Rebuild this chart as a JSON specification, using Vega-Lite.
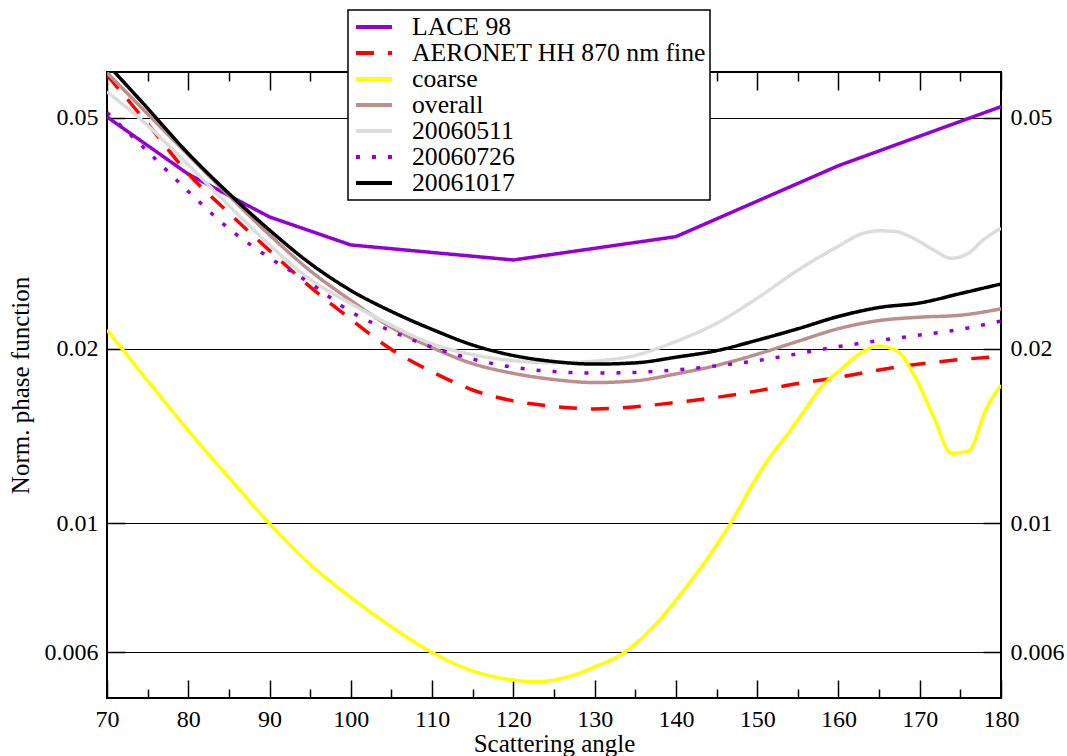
{
  "$schema": "https://vega.github.io/schema/vega-lite/v6.json",
  "width": 894,
  "height": 626,
  "autosize": {"type": "none"},
  "padding": {"left": 107, "top": 72, "right": 66, "bottom": 58},
  "background": "white",
  "config": {
    "font": "Liberation Serif",
    "view": {"stroke": "black", "strokeWidth": 2},
    "axis": {
      "labelFont": "Liberation Serif",
      "labelFontSize": 24,
      "labelColor": "black",
      "titleFont": "Liberation Serif",
      "titleFontSize": 25,
      "titleFontWeight": "normal",
      "titleColor": "black",
      "tickColor": "black",
      "tickWidth": 1.5,
      "domain": false,
      "gridColor": "black",
      "gridWidth": 1.2,
      "gridOpacity": 1
    },
    "legend": {"strokeWidth": 1.5}
  },
  "data": {
    "values": [
      {"series": "LACE 98", "angle": 70, "value": 0.0502},
      {"series": "LACE 98", "angle": 80, "value": 0.0400},
      {"series": "LACE 98", "angle": 90, "value": 0.03375},
      {"series": "LACE 98", "angle": 100, "value": 0.0302},
      {"series": "LACE 98", "angle": 120, "value": 0.02845},
      {"series": "LACE 98", "angle": 140, "value": 0.03121},
      {"series": "LACE 98", "angle": 160, "value": 0.04137},
      {"series": "LACE 98", "angle": 180, "value": 0.05229},

      {"series": "AERONET HH 870 nm fine", "angle": 70, "value": 0.05931},
      {"series": "AERONET HH 870 nm fine", "angle": 75, "value": 0.04886},
      {"series": "AERONET HH 870 nm fine", "angle": 80, "value": 0.04006},
      {"series": "AERONET HH 870 nm fine", "angle": 85, "value": 0.03429},
      {"series": "AERONET HH 870 nm fine", "angle": 90, "value": 0.02953},
      {"series": "AERONET HH 870 nm fine", "angle": 95, "value": 0.02557},
      {"series": "AERONET HH 870 nm fine", "angle": 100, "value": 0.02248},
      {"series": "AERONET HH 870 nm fine", "angle": 105, "value": 0.01994},
      {"series": "AERONET HH 870 nm fine", "angle": 110, "value": 0.01825},
      {"series": "AERONET HH 870 nm fine", "angle": 115, "value": 0.01698},
      {"series": "AERONET HH 870 nm fine", "angle": 120, "value": 0.01626},
      {"series": "AERONET HH 870 nm fine", "angle": 125, "value": 0.01591},
      {"series": "AERONET HH 870 nm fine", "angle": 130, "value": 0.01575},
      {"series": "AERONET HH 870 nm fine", "angle": 135, "value": 0.01589},
      {"series": "AERONET HH 870 nm fine", "angle": 140, "value": 0.01616},
      {"series": "AERONET HH 870 nm fine", "angle": 145, "value": 0.01649},
      {"series": "AERONET HH 870 nm fine", "angle": 150, "value": 0.01692},
      {"series": "AERONET HH 870 nm fine", "angle": 155, "value": 0.01742},
      {"series": "AERONET HH 870 nm fine", "angle": 160, "value": 0.01785},
      {"series": "AERONET HH 870 nm fine", "angle": 165, "value": 0.01839},
      {"series": "AERONET HH 870 nm fine", "angle": 170, "value": 0.01883},
      {"series": "AERONET HH 870 nm fine", "angle": 175, "value": 0.01916},
      {"series": "AERONET HH 870 nm fine", "angle": 180, "value": 0.01940},

      {"series": "coarse", "angle": 70, "value": 0.02156},
      {"series": "coarse", "angle": 75, "value": 0.01762},
      {"series": "coarse", "angle": 81.4, "value": 0.0137},
      {"series": "coarse", "angle": 85, "value": 0.012},
      {"series": "coarse", "angle": 90, "value": 0.00999},
      {"series": "coarse", "angle": 95, "value": 0.008495},
      {"series": "coarse", "angle": 99.9, "value": 0.007473},
      {"series": "coarse", "angle": 105, "value": 0.006631},
      {"series": "coarse", "angle": 110.2, "value": 0.00597},
      {"series": "coarse", "angle": 114.7, "value": 0.005587},
      {"series": "coarse", "angle": 120, "value": 0.00537},
      {"series": "coarse", "angle": 122.7, "value": 0.005334},
      {"series": "coarse", "angle": 127, "value": 0.005455},
      {"series": "coarse", "angle": 130, "value": 0.005658},
      {"series": "coarse", "angle": 133.5, "value": 0.00597},
      {"series": "coarse", "angle": 137.2, "value": 0.006635},
      {"series": "coarse", "angle": 141.3, "value": 0.007777},
      {"series": "coarse", "angle": 144.6, "value": 0.009},
      {"series": "coarse", "angle": 146.7, "value": 0.009988},
      {"series": "coarse", "angle": 149.5, "value": 0.01173},
      {"series": "coarse", "angle": 151.6, "value": 0.01303},
      {"series": "coarse", "angle": 153.8, "value": 0.01429},
      {"series": "coarse", "angle": 155.7, "value": 0.01558},
      {"series": "coarse", "angle": 158.1, "value": 0.01732},
      {"series": "coarse", "angle": 160.2, "value": 0.01838},
      {"series": "coarse", "angle": 162.7, "value": 0.01965},
      {"series": "coarse", "angle": 164.9, "value": 0.02022},
      {"series": "coarse", "angle": 167.2, "value": 0.01985},
      {"series": "coarse", "angle": 169.4, "value": 0.01791},
      {"series": "coarse", "angle": 171.7, "value": 0.01528},
      {"series": "coarse", "angle": 173.9, "value": 0.01321},
      {"series": "coarse", "angle": 176, "value": 0.01333},
      {"series": "coarse", "angle": 178.2, "value": 0.01579},
      {"series": "coarse", "angle": 180, "value": 0.01732},

      {"series": "overall", "angle": 70, "value": 0.05985},
      {"series": "overall", "angle": 75, "value": 0.0508},
      {"series": "overall", "angle": 80, "value": 0.04317},
      {"series": "overall", "angle": 85, "value": 0.03674},
      {"series": "overall", "angle": 90, "value": 0.03143},
      {"series": "overall", "angle": 95, "value": 0.02726},
      {"series": "overall", "angle": 100, "value": 0.02423},
      {"series": "overall", "angle": 105, "value": 0.02176},
      {"series": "overall", "angle": 110, "value": 0.02009},
      {"series": "overall", "angle": 115, "value": 0.01885},
      {"series": "overall", "angle": 120, "value": 0.01814},
      {"series": "overall", "angle": 125, "value": 0.0177},
      {"series": "overall", "angle": 130, "value": 0.01749},
      {"series": "overall", "angle": 135, "value": 0.01761},
      {"series": "overall", "angle": 140, "value": 0.0181},
      {"series": "overall", "angle": 145, "value": 0.01872},
      {"series": "overall", "angle": 150, "value": 0.01957},
      {"series": "overall", "angle": 155, "value": 0.0206},
      {"series": "overall", "angle": 160, "value": 0.02166},
      {"series": "overall", "angle": 165, "value": 0.02237},
      {"series": "overall", "angle": 170, "value": 0.02267},
      {"series": "overall", "angle": 175, "value": 0.02285},
      {"series": "overall", "angle": 180, "value": 0.02343},

      {"series": "20060511", "angle": 70, "value": 0.05549},
      {"series": "20060511", "angle": 75, "value": 0.04853},
      {"series": "20060511", "angle": 80, "value": 0.04149},
      {"series": "20060511", "angle": 85, "value": 0.03531},
      {"series": "20060511", "angle": 90, "value": 0.03021},
      {"series": "20060511", "angle": 95, "value": 0.02634},
      {"series": "20060511", "angle": 100, "value": 0.02392},
      {"series": "20060511", "angle": 105, "value": 0.02195},
      {"series": "20060511", "angle": 110, "value": 0.02039},
      {"series": "20060511", "angle": 115, "value": 0.01954},
      {"series": "20060511", "angle": 120, "value": 0.01908},
      {"series": "20060511", "angle": 125, "value": 0.01891},
      {"series": "20060511", "angle": 130, "value": 0.01904},
      {"series": "20060511", "angle": 135, "value": 0.01948},
      {"series": "20060511", "angle": 140, "value": 0.02059},
      {"series": "20060511", "angle": 145, "value": 0.02212},
      {"series": "20060511", "angle": 150, "value": 0.02444},
      {"series": "20060511", "angle": 155, "value": 0.02732},
      {"series": "20060511", "angle": 160, "value": 0.03005},
      {"series": "20060511", "angle": 162.7, "value": 0.0315},
      {"series": "20060511", "angle": 165, "value": 0.03194},
      {"series": "20060511", "angle": 167.1, "value": 0.03184},
      {"series": "20060511", "angle": 169.2, "value": 0.03102},
      {"series": "20060511", "angle": 171.7, "value": 0.02961},
      {"series": "20060511", "angle": 173.9, "value": 0.02864},
      {"series": "20060511", "angle": 176, "value": 0.02922},
      {"series": "20060511", "angle": 177.8, "value": 0.0308},
      {"series": "20060511", "angle": 180, "value": 0.03227},

      {"series": "20060726", "angle": 70, "value": 0.0511},
      {"series": "20060726", "angle": 75, "value": 0.04378},
      {"series": "20060726", "angle": 80, "value": 0.03735},
      {"series": "20060726", "angle": 85, "value": 0.03222},
      {"series": "20060726", "angle": 90, "value": 0.0287},
      {"series": "20060726", "angle": 95, "value": 0.02595},
      {"series": "20060726", "angle": 100, "value": 0.02317},
      {"series": "20060726", "angle": 105, "value": 0.02145},
      {"series": "20060726", "angle": 110, "value": 0.02012},
      {"series": "20060726", "angle": 115, "value": 0.0192},
      {"series": "20060726", "angle": 120, "value": 0.01858},
      {"series": "20060726", "angle": 125, "value": 0.01827},
      {"series": "20060726", "angle": 130, "value": 0.01816},
      {"series": "20060726", "angle": 135, "value": 0.01821},
      {"series": "20060726", "angle": 140, "value": 0.01839},
      {"series": "20060726", "angle": 145, "value": 0.01869},
      {"series": "20060726", "angle": 150, "value": 0.01908},
      {"series": "20060726", "angle": 155, "value": 0.01961},
      {"series": "20060726", "angle": 160, "value": 0.02017},
      {"series": "20060726", "angle": 165, "value": 0.02066},
      {"series": "20060726", "angle": 170, "value": 0.02112},
      {"series": "20060726", "angle": 175, "value": 0.0216},
      {"series": "20060726", "angle": 180, "value": 0.02233},

      {"series": "20061017", "angle": 70, "value": 0.06197},
      {"series": "20061017", "angle": 75, "value": 0.05194},
      {"series": "20061017", "angle": 80, "value": 0.04341},
      {"series": "20061017", "angle": 85, "value": 0.03704},
      {"series": "20061017", "angle": 90, "value": 0.03203},
      {"series": "20061017", "angle": 95, "value": 0.02806},
      {"series": "20061017", "angle": 100, "value": 0.02521},
      {"series": "20061017", "angle": 105, "value": 0.02319},
      {"series": "20061017", "angle": 110, "value": 0.0216},
      {"series": "20061017", "angle": 115, "value": 0.0203},
      {"series": "20061017", "angle": 120, "value": 0.01947},
      {"series": "20061017", "angle": 125, "value": 0.01901},
      {"series": "20061017", "angle": 130, "value": 0.01882},
      {"series": "20061017", "angle": 135, "value": 0.01891},
      {"series": "20061017", "angle": 140, "value": 0.01934},
      {"series": "20061017", "angle": 145, "value": 0.01985},
      {"series": "20061017", "angle": 150, "value": 0.02069},
      {"series": "20061017", "angle": 155, "value": 0.02165},
      {"series": "20061017", "angle": 160, "value": 0.02274},
      {"series": "20061017", "angle": 165, "value": 0.02356},
      {"series": "20061017", "angle": 170, "value": 0.02399},
      {"series": "20061017", "angle": 175, "value": 0.0249},
      {"series": "20061017", "angle": 180, "value": 0.02587}
    ]
  },
  "layer": [
    {
      "transform": [{"filter": {"field": "series", "oneOf": ["LACE 98"]}}],
      "mark": {"type": "line", "strokeWidth": 3.5, "clip": true, "interpolate": "linear"},
      "encoding": {
        "x": {
          "field": "angle", "type": "quantitative",
          "scale": {"domain": [70, 180], "nice": false, "zero": false},
          "axis": {
            "orient": "bottom",
            "title": "Scattering angle",
            "titlePadding": 0,
            "values": [70, 75, 80, 85, 90, 95, 100, 105, 110, 115, 120, 125, 130, 135, 140, 145, 150, 155, 160, 165, 170, 175, 180],
            "labelExpr": "datum.value % 10 === 0 ? datum.label : ''",
            "tickSize": {"condition": {"test": "datum.value % 10 === 0", "value": -18}, "value": -9},
            "labelPadding": 27,
            "grid": false,
            "labelFlush": false
          }
        },
        "y": {
          "field": "value", "type": "quantitative",
          "scale": {"type": "log", "domain": [0.005, 0.06], "nice": false},
          "axis": {
            "orient": "left",
            "title": "Norm. phase function",
            "titlePadding": 11,
            "values": [0.006, 0.01, 0.02, 0.05],
            "format": "~g",
            "tickSize": -18,
            "labelPadding": 27,
            "grid": true
          }
        },
        "color": {
          "field": "series", "type": "nominal",
          "scale": {
            "domain": ["LACE 98", "AERONET HH 870 nm fine", "coarse", "overall", "20060511", "20060726", "20061017"],
            "range": ["#9400D3", "#FF0000", "#FFFF00", "#BC8F8F", "#DCDCDC", "#9400D3", "#000000"]
          },
          "legend": {
            "orient": "none", "legendX": 241, "legendY": -62,
            "title": null, "symbolType": "M-1.64,0H1.64", "symbolSize": 484, "symbolStrokeWidth": 4,
            "symbolOffset": 9,
            "labelFont": "Liberation Serif", "labelFontSize": 25.7, "labelColor": "black",
            "labelOffset": 25, "rowPadding": 0, "padding": 4,
            "fillColor": "white", "strokeColor": "black", "labelLimit": 400
          }
        },
        "strokeDash": {
          "field": "series", "type": "nominal",
          "scale": {
            "domain": ["LACE 98", "AERONET HH 870 nm fine", "coarse", "overall", "20060511", "20060726", "20061017"],
            "range": [[1, 0], [18, 14], [1, 0], [1, 0], [1, 0], [4, 12], [1, 0]]
          },
          "legend": {
            "orient": "none", "legendX": 241, "legendY": -62,
            "title": null, "symbolType": "M-1.64,0H1.64", "symbolSize": 484, "symbolStrokeWidth": 4,
            "symbolOffset": 9,
            "labelFont": "Liberation Serif", "labelFontSize": 25.7, "labelColor": "black",
            "labelOffset": 25, "rowPadding": 0, "padding": 4,
            "fillColor": "white", "strokeColor": "black", "labelLimit": 400
          }
        }
      }
    },
    {
      "transform": [{"filter": {"field": "series", "oneOf": ["AERONET HH 870 nm fine", "coarse", "overall", "20060511", "20060726", "20061017"]}}],
      "mark": {"type": "line", "strokeWidth": 3.5, "clip": true, "interpolate": "monotone"},
      "encoding": {
        "x": {
          "field": "angle", "type": "quantitative",
          "scale": {"domain": [70, 180], "nice": false, "zero": false},
          "axis": {
            "orient": "top",
            "title": null,
            "labels": false,
            "values": [70, 75, 80, 85, 90, 95, 100, 105, 110, 115, 120, 125, 130, 135, 140, 145, 150, 155, 160, 165, 170, 175, 180],
            "tickSize": {"condition": {"test": "datum.value % 10 === 0", "value": -18}, "value": -9},
            "grid": false
          }
        },
        "y": {
          "field": "value", "type": "quantitative",
          "scale": {"type": "log", "domain": [0.005, 0.06], "nice": false},
          "axis": {
            "orient": "right",
            "title": null,
            "values": [0.006, 0.01, 0.02, 0.05],
            "format": "~g",
            "tickSize": -18,
            "labelPadding": 27,
            "grid": false
          }
        },
        "color": {"field": "series", "type": "nominal"},
        "strokeDash": {"field": "series", "type": "nominal"}
      }
    }
  ]
}
